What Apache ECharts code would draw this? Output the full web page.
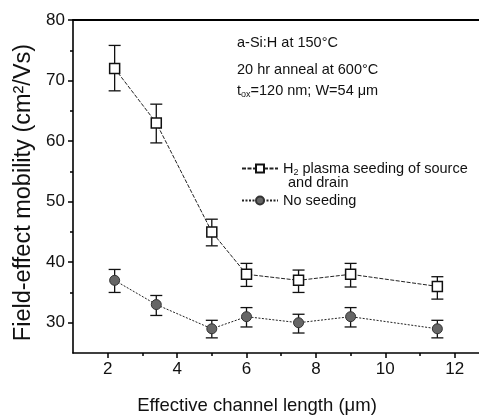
<!DOCTYPE html>
<html>
<head>
<meta charset="utf-8">
<script src="https://cdn.jsdelivr.net/npm/echarts@6/dist/echarts.min.js"></script>
<style>
  html, body { margin: 0; padding: 0; background: #fff; }
  #main { width: 479px; height: 416px; }
</style>
</head>
<body>
<div id="main"></div>
<script>
// channel length (um)
var lengths = [2.2, 3.4, 5, 6, 7.5, 9, 11.5];
// H2 plasma seeding of source and drain
var seededMean = [72, 63, 45, 38, 37, 38, 36];
var seededLow = [68.3, 59.7, 42.7, 36, 35, 35.9, 33.9];
var seededHigh = [75.8, 66.1, 47.1, 39.8, 38.7, 39.8, 37.6];
// no seeding
var plainMean = [37, 33, 29, 31, 30, 31, 29];
var plainLow = [35, 31.2, 27.5, 29.3, 28.3, 29.3, 27.5];
var plainHigh = [38.8, 34.5, 30.4, 32.5, 31.4, 32.5, 30.4];

var xLabels = [2, 4, 6, 8, 10, 12];
var xMinor = [3, 5, 7, 9, 11];
var yLabels = [30, 40, 50, 60, 70, 80];
var yMinor = [35, 45, 55, 65, 75];

var font = 'Liberation Sans, Arial, sans-serif';
var xMin = 1, xMax = 12.7, yMin = 25, yMax = 80;

function pairs(xs, ys) {
  return xs.map(function (x, i) { return [x, ys[i]]; });
}
function errData(xs, lo, hi) {
  return xs.map(function (x, i) { return [x, lo[i], hi[i]]; });
}
function errorBars(params, api) {
  var x = api.value(0);
  var lo = api.coord([x, api.value(1)]);
  var hi = api.coord([x, api.value(2)]);
  var w = 6;
  var st = { stroke: '#111', lineWidth: 1.3 };
  return {
    type: 'group',
    children: [
      { type: 'line', shape: { x1: lo[0], y1: lo[1], x2: hi[0], y2: hi[1] }, style: st },
      { type: 'line', shape: { x1: lo[0] - w, y1: lo[1], x2: lo[0] + w, y2: lo[1] }, style: st },
      { type: 'line', shape: { x1: hi[0] - w, y1: hi[1], x2: hi[0] + w, y2: hi[1] }, style: st }
    ]
  };
}

var chart = echarts.init(document.getElementById('main'));

var txt = { fontFamily: font, fontSize: 14.5, fill: '#111' };
var sub = { fontFamily: font, fontSize: 9, fill: '#111', padding: [8, 0, 0, 0] };
var axisStroke = { color: '#000', width: 1.6 };

chart.setOption({
  animation: false,
  backgroundColor: '#fff',
  grid: { left: 73, right: 0, top: 20, bottom: 63, outerBoundsMode: 'none' },
  legend: {
    orient: 'vertical',
    left: 236,
    top: 156,
    itemWidth: 36,
    itemHeight: 10,
    itemGap: 16,
    data: ['seeded', 'plain'],
    formatter: function (name) {
      if (name === 'seeded') return '{n|H}{s|2}{n| plasma seeding of source}';
      return '{n|No seeding}';
    },
    textStyle: {
      fontFamily: font,
      fontSize: 14.5,
      color: '#111',
      rich: {
        n: { fontFamily: font, fontSize: 14.5, color: '#111' },
        s: { fontFamily: font, fontSize: 9, color: '#111', padding: [8, 0, 0, 0] }
      }
    }
  },
  graphic: [
    { type: 'text', left: 288, top: 175, style: { text: 'and drain', font: '14.5px ' + font, fill: '#111' } },
    { type: 'text', left: 237, top: 35, style: { text: '{n|a-Si:H at 150°C}', rich: { n: txt } } },
    { type: 'text', left: 237, top: 62, style: { text: '{n|20 hr anneal at 600°C}', rich: { n: txt } } },
    { type: 'text', left: 237, top: 83, style: { text: '{n|t}{s|ox}{n|=120 nm; W=54 μm}', rich: { n: txt, s: sub } } }
  ],
  xAxis: [
    {
      type: 'value', min: xMin, max: xMax, position: 'bottom',
      name: 'Effective channel length (μm)',
      nameLocation: 'middle', nameGap: 43,
      nameTextStyle: { fontFamily: font, fontSize: 18.5, color: '#111', padding: [0, 38, 0, 0] },
      axisLine: { show: true, onZero: false, lineStyle: axisStroke },
      axisTick: { show: true, customValues: xLabels, length: 5, lineStyle: { color: '#000', width: 1.5 } },
      axisLabel: { customValues: xLabels, fontFamily: font, fontSize: 17, color: '#111', margin: 8 },
      splitLine: { show: false }
    },
    {
      type: 'value', min: xMin, max: xMax, position: 'bottom',
      axisLine: { show: false, onZero: false },
      axisTick: { show: true, customValues: xMinor, length: 3, lineStyle: { color: '#000', width: 1.5 } },
      axisLabel: { show: false },
      splitLine: { show: false }
    },
    {
      // top frame of the plot box
      type: 'value', min: xMin, max: xMax, position: 'top',
      axisLine: { show: true, onZero: false, lineStyle: { color: '#000', width: 2 } },
      axisTick: { show: false },
      axisLabel: { show: false },
      splitLine: { show: false }
    }
  ],
  yAxis: [
    {
      type: 'value', min: yMin, max: yMax, position: 'left',
      name: 'Field-effect mobility (cm²/Vs)',
      nameLocation: 'middle', nameGap: 32,
      nameTextStyle: { fontFamily: font, fontSize: 23.5, color: '#111', padding: [0, 12, 0, 0] },
      axisLine: { show: true, onZero: false, lineStyle: axisStroke },
      axisTick: { show: true, customValues: yLabels, length: 5, lineStyle: { color: '#000', width: 1.5 } },
      axisLabel: { customValues: yLabels, fontFamily: font, fontSize: 17, color: '#111', margin: 8 },
      splitLine: { show: false }
    },
    {
      type: 'value', min: yMin, max: yMax, position: 'left',
      axisLine: { show: false, onZero: false },
      axisTick: { show: true, customValues: yMinor, length: 3, lineStyle: { color: '#000', width: 1.5 } },
      axisLabel: { show: false },
      splitLine: { show: false }
    }
  ],
  series: [
    {
      type: 'custom', renderItem: errorBars, z: 1,
      data: errData(lengths, seededLow, seededHigh), silent: true
    },
    {
      type: 'custom', renderItem: errorBars, z: 1,
      data: errData(lengths, plainLow, plainHigh), silent: true
    },
    {
      name: 'seeded', type: 'line', z: 3,
      data: pairs(lengths, seededMean),
      symbol: 'rect', symbolSize: 10,
      lineStyle: { color: '#222', width: 1, type: [4, 1.5] },
      itemStyle: { color: '#fff', borderColor: '#111', borderWidth: 1.5 }
    },
    {
      name: 'plain', type: 'line', z: 3,
      data: pairs(lengths, plainMean),
      symbol: 'circle', symbolSize: 10,
      lineStyle: { color: '#222', width: 1, type: [2, 1.5] },
      itemStyle: { color: '#666', borderColor: '#333', borderWidth: 1 }
    }
  ]
});
</script>
</body>
</html>
